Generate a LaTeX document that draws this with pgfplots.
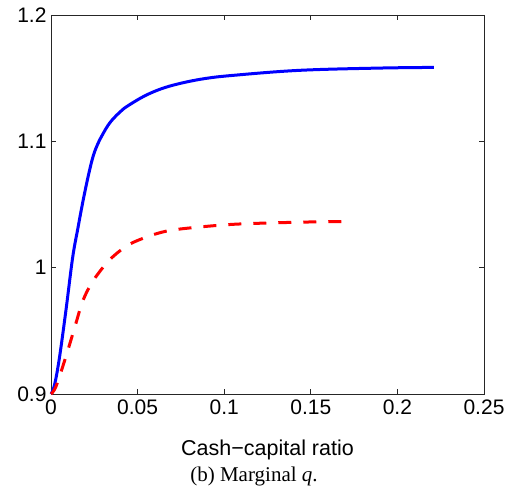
\documentclass[border=0pt]{standalone}
\usepackage{pgfplots}
\pgfplotsset{compat=1.18}
\usepackage{fontspec}
\setmainfont{Liberation Sans}
\newfontfamily\capfont{Liberation Serif}
\begin{document}
\begin{tikzpicture}[x=1pt,y=1pt]
\useasboundingbox (0,0) rectangle (512,500);
\begin{axis}[
  at={(51pt,106pt)}, anchor=south west, scale only axis,
  width=433pt, height=379pt,
  xmin=0, xmax=0.25, ymin=0.9, ymax=1.2,
  xtick={0,0.05,0.1,0.15,0.2,0.25},
  xticklabels={0,0.05,0.1,0.15,0.2,0.25},
  ytick={0.9,1,1.1,1.2},
  yticklabels={0.9,1,1.1,1.2},
  tick align=inside, major tick length=5pt,
  axis line style={line width=0.9pt, black!85},
  tick style={line width=0.8pt, black!85},
  ticklabel style={font=\fontsize{21}{25}\selectfont},
  xticklabel style={yshift=-2pt},
  yticklabel style={xshift=-1pt},
  clip=false,
]
\addplot[blue, line width=3pt, smooth, tension=0.6, line join=round] coordinates {
(0,0.900) (0.002,0.907) (0.0048,0.928) (0.0087,0.967) (0.0125,1.008)
(0.0155,1.031) (0.0183,1.0515) (0.0215,1.0725) (0.0244,1.0885) (0.0272,1.0985)
(0.0302,1.1064) (0.0330,1.1128) (0.0360,1.1180) (0.0400,1.1234) (0.0437,1.1275)
(0.0533,1.1354) (0.0629,1.1412) (0.0735,1.1455)
(0.088,1.1495) (0.105,1.1522) (0.1435,1.1562) (0.19,1.158) (0.221,1.1585)
};
\addplot[red, line width=3pt, smooth, tension=0.5, dash pattern=on 13pt off 12pt] coordinates {
(0,0.900) (0.0029,0.906) (0.0087,0.930) (0.0144,0.956) (0.0183,0.9735)
(0.024,0.989) (0.0337,1.006) (0.0453,1.0185) (0.0607,1.0268) (0.074,1.0305)
(0.105,1.0343) (0.1435,1.0360) (0.1744,1.0366)
};
\end{axis}
\node at (267.5,50) {\fontsize{21.5}{25}\selectfont Cash−capital ratio};
\node at (254,24) {\capfont\fontsize{21}{25}\selectfont (b) Marginal \textit{q}.};
\end{tikzpicture}
\end{document}
